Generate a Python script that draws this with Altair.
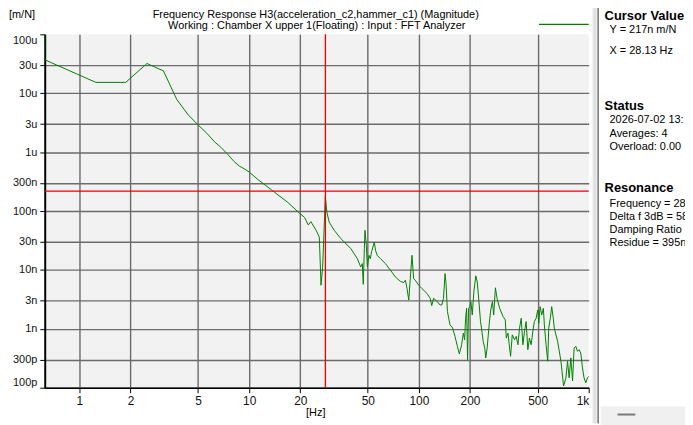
import altair as alt
import pandas as pd

# ---------------- data ----------------
freq_hz = [
    0.625, 0.625, 1.25, 1.875, 2.5, 3.125, 3.75, 4.375, 5.0, 5.625,
    6.25, 6.875, 7.5, 8.125, 8.75, 9.375, 10.0, 11.3, 13.5, 16.9,
    19.8, 21.2, 22.3, 23.1, 24.8, 25.9, 26.5, 27.1, 28.1, 28.7,
    29.6, 31.7, 34.7, 39.7, 43.4, 45.4, 46.4, 47.0, 47.7, 48.1,
    49.0, 49.7, 50.8, 51.7, 52.6, 54.6, 55.5, 56.8, 59.4, 63.5,
    67.9, 72.7, 77.7, 81.4, 83.2, 85.1, 87.1, 88.9, 91.0, 93.1,
    95.1, 99.6, 101.8, 104, 111.4, 116.5, 119, 121.9,
    127.4, 133.2, 136.3, 139.5, 142.5, 144.4, 147.2, 152.4, 158.1, 163.1,
    168.4, 173.0, 178.4, 182.6, 185.8, 188.3, 190.9, 193.4, 196.1, 199.5,
    202.2, 206.1, 210.6, 216.3, 220.5, 225.3, 230.5, 233.6, 239.0, 244.2,
    247.5, 252.2, 259.1, 264.8, 270.9, 275.7, 282.1, 288.6, 298.8, 312.8,
    322.6, 327.0, 334.6, 341.9, 346.6, 354.6, 365.8, 374.2, 382.9, 391.3,
    400.3, 409.6, 418.5, 428.1, 438.0, 447.5, 457.9, 468.6, 478.7, 489.9,
    501.2, 508.0, 517.1, 529.1, 540.6, 548.0, 560.7, 573.7, 581.4, 594.1,
    605.4, 618.5, 627.0, 656.1, 686.0, 711.2, 733.7, 750.6, 767.0, 784.7,
    803.0, 820.4, 839.5, 858.9, 877.7, 898.0, 918.9, 938.8, 960.6, 982.7, 1000,
]
mag_m_per_n = [
    1e-4, 3.7e-5, 1.53e-5, 1.53e-5, 3.2e-5, 2.4e-5, 7.8e-6, 4.3e-6, 2.9e-6, 2.1e-6,
    1.5e-6, 1.18e-6, 9.1e-7, 7.0e-7, 5.8e-7, 5.2e-7, 4.6e-7, 3.4e-7, 2.3e-7, 1.4e-7,
    9.2e-8, 7.8e-8, 5.8e-8, 6.6e-8, 4.7e-8, 3.6e-8, 5.5e-9, 1.14e-8, 1.75e-7, 9.5e-8,
    6.5e-8, 4.7e-8, 3.4e-8, 2.3e-8, 1.55e-8, 1.12e-8, 1.28e-8, 5.7e-9, 2.3e-8, 4.7e-8,
    2.6e-8, 1.12e-8, 1.77e-8, 1.55e-8, 2.04e-8, 2.97e-8, 2.14e-8, 1.77e-8, 1.55e-8, 1.28e-8,
    9.9e-9, 7.6e-9, 6.4e-9, 6.1e-9, 6.7e-9, 4.85e-9, 3.08e-9, 7.1e-9, 1.77e-8, 7.1e-9,
    6.7e-9, 5.5e-9, 5.2e-9, 4.85e-9, 4.0e-9, 3.3e-9, 2.48e-9, 3.3e-9,
    2.96e-9, 2.54e-9, 2.54e-9, 3.29e-9, 8.67e-9, 5.89e-9, 1.96e-9, 1.17e-9, 1.03e-9, 7.43e-10,
    5.05e-10, 3.74e-10, 5.37e-10, 8.45e-10, 6.52e-10, 1.51e-9, 2.23e-9, 3.0e-10, 2.23e-9, 2.38e-9,
    2.89e-9, 1.72e-9, 4.26e-9, 7.93e-9, 6.28e-9, 3.08e-9, 1.33e-9, 1.03e-9, 6.12e-10, 4.72e-10,
    3.21e-10, 4.72e-10, 1.17e-9, 2.09e-9, 2.89e-9, 1.72e-9, 4.98e-9, 3.29e-9, 2.23e-9, 1.62e-9,
    1.42e-9, 6.96e-10, 8.45e-10, 4.72e-10, 3.42e-10, 7.92e-10, 6.52e-10, 7.43e-10, 5.37e-10, 1.03e-9,
    1.51e-9, 5.37e-10, 9.03e-10, 1.33e-9, 4.42e-10, 6.96e-10, 5.37e-10, 9.03e-10, 1.33e-9, 1.51e-9,
    2.09e-9, 1.25e-9, 2.38e-9, 1.72e-9, 2.23e-9, 1.17e-9, 5.37e-10, 2.82e-10, 1.03e-9, 1.51e-9,
    2.38e-9, 1.51e-9, 1.03e-9, 6.12e-10, 2.82e-10, 1.07e-10, 1.47e-10, 2.82e-10, 1.47e-10, 3.21e-10,
    1.30e-10, 4.72e-10, 5.05e-10, 4.15e-10, 4.42e-10, 3.89e-10, 2.17e-10, 1.47e-10, 1.21e-10, 1.47e-10, 1.57e-10,
]
assert len(freq_hz) == len(mag_m_per_n)

cursor_x = [28.13]
cursor_y = [217e-9]

x_domain = [0.625, 1000]
y_domain = [1e-10, 1e-4]
x_ticks = [1, 2, 5, 10, 20, 50, 100, 200, 500, 1000]
x_tick_labels = ["1", "2", "5", "10", "20", "50", "100", "200", "500", "1k"]
y_ticks = [1e-4, 3e-5, 1e-5, 3e-6, 1e-6, 3e-7, 1e-7, 3e-8, 1e-8, 3e-9, 1e-9, 3e-10, 1e-10]
y_tick_labels = ["100u", "30u", "10u", "3u", "1u", "300n", "100n", "30n", "10n",
                 "3n", "1n", "300p", "100p"]

title_text = "Frequency Response H3(acceleration_c2,hammer_c1) (Magnitude)"
subtitle_text = "Working : Chamber X upper 1(Floating) : Input : FFT Analyzer"
y_unit = "[m/N]"
x_unit = "[Hz]"
panel_headers = ["Cursor Value", "Status", "Resonance"]
panel_items = ["Y = 217n m/N", "X = 28.13 Hz",
               "2026-07-02  13:", "Averages: 4", "Overload:  0.00",
               "Frequency = 28.", "Delta f 3dB = 58", "Damping Ratio =", "Residue = 395n"]

# ---------------- layout (page px -> plot px) ----------------
OX, OY = 45, 33          # plot-area origin on the page
W, H = 548, 356
FONT = "Liberation Sans"


def px(x):
    return x - OX


def py(y):
    return y - OY


def label_expr(vals, labels):
    expr = "''"
    for v, l in reversed(list(zip(vals, labels))):
        expr = f"abs(datum.value/{v!r}-1)<0.01 ? '{l}' : ({expr})"
    return expr


df = pd.DataFrame({"f": freq_hz, "m": mag_m_per_n, "i": list(range(len(freq_hz)))})
one = pd.DataFrame({"a": [0]})

xscale = alt.Scale(type="log", domain=x_domain, nice=False)
yscale = alt.Scale(type="log", domain=y_domain, nice=False)

GRID = "#6b6b6b"
xaxis = alt.Axis(
    values=x_ticks, labelExpr=label_expr(x_ticks, x_tick_labels), title=None,
    grid=True, gridColor=GRID, gridWidth=1.4,
    gridOpacity={"condition": {"test": "datum.value >= 999", "value": 0}, "value": 1},
    domainColor="#000", domainWidth=1.5, tickColor="#000", tickSize=5, tickWidth=1,
    labelFont=FONT, labelFontSize=12, labelColor="#111", labelPadding=3, labelFlush=True,
)
yaxis = alt.Axis(
    values=y_ticks, labelExpr=label_expr(y_ticks, y_tick_labels), title=None,
    grid=True, gridColor=GRID, gridWidth=1.4,
    gridOpacity={"condition": {"test": "datum.value > 9e-5", "value": 0}, "value": 1},
    domainColor="#000", domainWidth=2, tickColor="#000", tickSize=5, tickWidth=1,
    labelFont=FONT, labelFontSize=11, labelColor="#111", labelPadding=3, labelFlush=True,
)

line = alt.Chart(df).mark_line(color="#008000", strokeWidth=1, clip=True).encode(
    x=alt.X("f:Q", scale=xscale, axis=xaxis),
    y=alt.Y("m:Q", scale=yscale, axis=yaxis),
    order="i:Q",
)

vcursor = alt.Chart(pd.DataFrame({"f": cursor_x})).mark_rule(
    color="#ee0000", strokeWidth=1.3).encode(x=alt.X("f:Q", scale=xscale))
hcursor = alt.Chart(pd.DataFrame({"m": cursor_y})).mark_rule(
    color="#ee0000", strokeWidth=1.3).encode(y=alt.Y("m:Q", scale=yscale))


def txt(t, x, y, size=11, bold=False, align="left", color="#000"):
    return alt.Chart(one).mark_text(
        text=t, font=FONT, fontSize=size, fontWeight="bold" if bold else "normal",
        align=align, baseline="middle", color=color,
    ).encode(x=alt.value(px(x)), y=alt.value(py(y)))


def hrule(x1, x2, y, color, width):
    return alt.Chart(one).mark_rule(color=color, strokeWidth=width).encode(
        x=alt.value(px(x1)), x2=alt.value(px(x2)), y=alt.value(py(y)))


def vrule(x, y1, y2, color, width):
    return alt.Chart(one).mark_rule(color=color, strokeWidth=width).encode(
        x=alt.value(px(x)), y=alt.value(py(y1)), y2=alt.value(py(y2)))


layers = [line, vcursor, hcursor]

# header texts
layers.append(txt(title_text, 318, 14, align="center"))
layers.append(txt(subtitle_text, 319, 25, align="center"))
layers.append(txt(y_unit, 9, 14))
layers.append(txt(x_unit, 318, 414, align="center"))
layers.append(hrule(543, 593, 23, "#008000", 1.2))

# right side panel
layers.append(vrule(599, 0, 425, "#e2e2e2", 4))
layers.append(vrule(602.5, 0, 425, "#7a7a7a", 1.6))
layers.append(alt.Chart(one).mark_rect(color="#f0f0f0").encode(
    x=alt.value(px(605)), x2=alt.value(px(700)), y=alt.value(py(408)), y2=alt.value(py(430))))
layers.append(hrule(622, 640, 416, "#7a7a7a", 2))

header_y = [15, 105, 188]
item_y = [29, 50, 119, 133, 147, 204, 217, 230, 243]
for t, y in zip(panel_headers, header_y):
    layers.append(txt(t, 609, y, size=13, bold=True))
for t, y in zip(panel_items, item_y):
    layers.append(txt(t, 614, y, size=11))

chart = alt.layer(*layers).properties(
    width=W, height=H,
    autosize=alt.AutoSizeParams(type="none"),
    padding={"left": OX - 8, "top": OY - 8, "right": 690 - 8 - (OX - 8) - W, "bottom": 417 - (OY - 8) - H},
    background="white",
).configure_view(fill="#f2f2f2", strokeWidth=0)

chart.save("out.html", embed_options={"renderer": "svg", "actions": False})
